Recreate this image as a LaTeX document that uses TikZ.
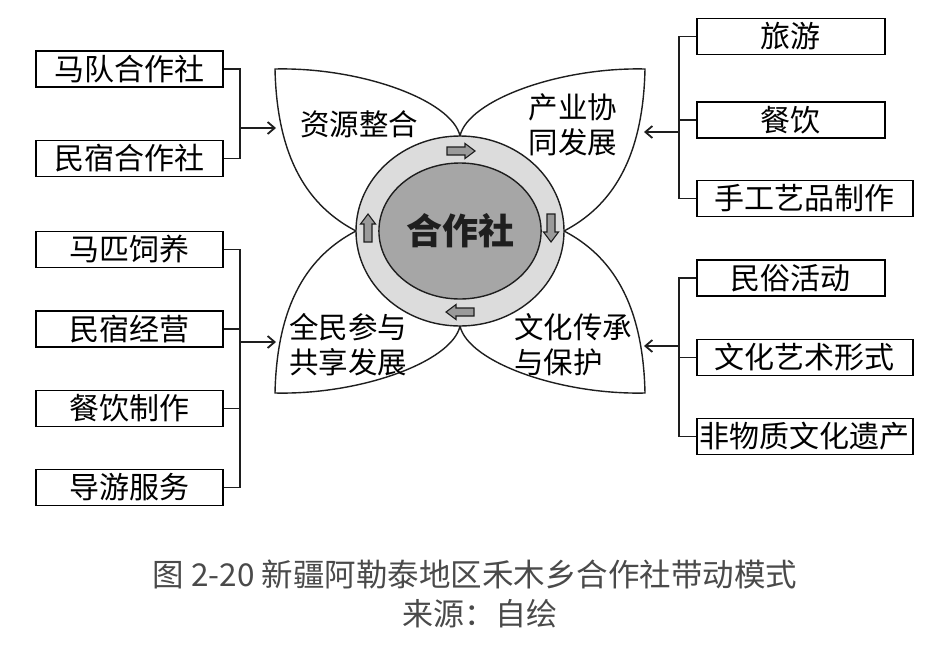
\documentclass[tikz,border=0pt]{standalone}
\usepackage{fontspec}
\setmainfont{Noto Sans CJK SC}
\usepackage{tikz}
\usetikzlibrary{arrows.meta,calc,positioning,shapes.geometric}

\definecolor{ringgray}{HTML}{DCDCDC}
\definecolor{coregray}{HTML}{A6A6A6}
\definecolor{arrgray}{HTML}{9A9A9A}
\definecolor{inkline}{HTML}{1E1E1E}
\definecolor{captext}{HTML}{4A4A4A}

\tikzset{
  box/.style={draw=black,line width=1.8pt,minimum width=187pt,minimum height=36pt,
    inner xsep=2.5pt,inner ysep=0pt,font=\fontsize{30}{34}\selectfont},
  petal/.style={draw=inkline,line width=1.4pt,fill=white},
  plabel/.style={align=left,font=\fontsize{29.5}{35}\selectfont},
  link/.style={draw=inkline,line width=1.8pt},
  flowarr/.style={draw=inkline,line width=1.1pt,fill=arrgray},
  >={Straight Barb[length=7pt,width=12pt]}
}

\begin{document}
\begin{tikzpicture}[x=1pt,y=-1pt]
  \useasboundingbox (0,0) rectangle (934,651);
  % four petals round the centre
  \foreach \sx/\sy in {1/1,-1/1,1/-1,-1/-1}{
    \begin{scope}[shift={(460,231)},xscale=\sx,yscale=\sy]
      \draw[petal] (0,-95) .. controls (-8,-131) and (-100,-164) .. (-185,-162)
        .. controls (-183,-70) and (-150,-24) .. (-104,0) -- cycle;
    \end{scope}
  }
  \node[plabel] (zy) at (359,124) {资源整合};
  \node[plabel] (cy) at (573,125) {产业协\\同发展};
  \node[plabel] (qm) at (348,345) {全民参与\\共享发展};
  \node[plabel] (wh) at (573,345) {文化传承\\与保护};

  % centre rings
  \node[ellipse,draw=inkline,line width=1.4pt,fill=ringgray,
    minimum width=208pt,minimum height=190pt] (ring) at (460,231) {};
  \node[ellipse,draw=inkline,line width=1.4pt,fill=coregray,
    minimum width=156pt,minimum height=136pt,
    font=\fontsize{36}{40}\selectfont\bfseries,text=inkline] (core) at (460,231) {合作社};
  \foreach \px/\py/\rot in {461/151/0,551/228/-90,460/312/180,368/228/90}{
    \draw[flowarr,shift={(\px,\py)},rotate=\rot]
      (-14,-4) -- (4,-4) -- (4,-7.5) -- (14,0) -- (4,7.5) -- (4,4) -- (-14,4) -- cycle;
  }

  % left boxes
  \node[box] (mdhz) at (129.5,69) {马队合作社};
  \node[box] (msh) at (129.5,158.5) {民宿合作社};
  \node[box] (mpsy) at (129.5,249.5) {马匹饲养};
  \node[box] (msjy) at (129.5,329) {民宿经营};
  \node[box] (cyzz) at (129.5,408.5) {餐饮制作};
  \node[box] (dyfw) at (129.5,487.5) {导游服务};

  % right boxes
  \node[box,minimum width=188pt,anchor=west] (ly) at (696,36.5) {旅游};
  \node[box,minimum width=188pt,anchor=west] (cy2) at (696,120) {餐饮};
  \node[box,minimum width=216pt,anchor=west] (sgy) at (696,198.5) {手工艺品制作};
  \node[box,minimum width=188pt,anchor=west] (mshd) at (696,278) {民俗活动};
  \node[box,minimum width=216pt,anchor=west] (whys) at (696,357.5) {文化艺术形式};
  \node[box,minimum width=216pt,anchor=west] (fwz) at (696,436.5) {非物质文化遗产};

  % brackets
  \coordinate (jL1) at (240,128);
  \coordinate (jL2) at (240,342);
  \coordinate (jR1) at (679,132);
  \coordinate (jR2) at (679,346);
  \coordinate (pL1) at (276,128);
  \coordinate (pL2) at (276,342);
  \coordinate (pR1) at (644,132);
  \coordinate (pR2) at (644,346);

  \draw[link] (mdhz.east) -| (jL1) |- (msh.east);
  \draw[link,->] (jL1) -- (pL1);
  \draw[link] (mpsy.east) -| (jL2) |- (dyfw.east);
  \draw[link] (msjy.east) -- (msjy.east -| jL2);
  \draw[link] (cyzz.east) -- (cyzz.east -| jL2);
  \draw[link,->] (jL2) -- (pL2);

  \draw[link] (ly.west) -| (jR1) |- (sgy.west);
  \draw[link] (cy2.west) -- (cy2.west -| jR1);
  \draw[link,->] (jR1) -- (pR1);
  \draw[link] (mshd.west) -| (jR2) |- (fwz.west);
  \draw[link] (whys.west) -- (whys.west -| jR2);
  \draw[link,->] (jR2) -- (pR2);

  % caption
  \node[text=captext,font=\fontsize{31.5}{36}\selectfont] (cap) at (475,574)
    {图 2-20 新疆阿勒泰地区禾木乡合作社带动模式};
  \node[text=captext,font=\fontsize{31}{36}\selectfont] (src) at (480,614) {来源：自绘};
\end{tikzpicture}
\end{document}
